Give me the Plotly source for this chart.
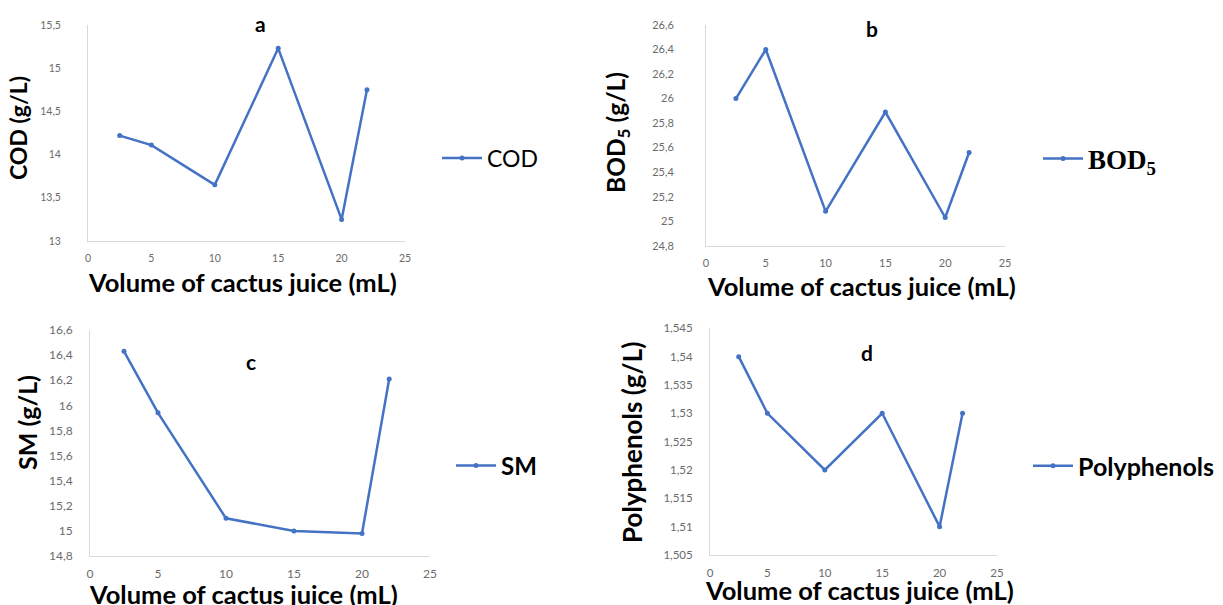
import plotly.graph_objects as go

W, H = 1223, 605
OFF = 8  # the page body adds an 8px margin around the figure

volume = [2.5, 5, 10, 15, 20, 22]
cod = [14.22, 14.11, 13.65, 15.23, 13.25, 14.75]
bod5 = [26.0, 26.4, 25.08, 25.89, 25.03, 25.56]
sm = [16.43, 15.94, 15.1, 15.0, 14.98, 16.21]
polyphenols = [1.54, 1.53, 1.52, 1.53, 1.51, 1.53]

x_title = "Volume of cactus juice (mL)"
y_titles = ["COD (g/L)", "BOD<sub>5</sub> (g/L)", "SM (g/L)", "Polyphenols (g/L)"]
legend_names = ["COD", "BOD<sub>5</sub>", "SM", "Polyphenols"]
panel_letters = ["a", "b", "c", "d"]

BLUE = "#4472C4"
FONT = "Lato"


def px(x):
    return (x - OFF) / W


def py(y):
    return 1 - (y - OFF) / H


# plot-area boxes in pixels: left, right, top, bottom
boxes = [
    (88, 405, 25, 241),
    (706, 1005, 25, 245.7),
    (90, 430, 330, 556),
    (710, 997, 328.3, 555),
]
y_ranges = [(13, 15.5), (24.8, 26.6), (14.8, 16.6), (1.505, 1.545)]
y_dticks = [0.5, 0.2, 0.2, 0.005]
tick_sizes = [10.5, 11, 12, 11.5]
y_standoff = [24, 29, 14, 14]

series = [cod, bod5, sm, polyphenols]

fig = go.Figure()

legend_pos = [(437, 158), (1038, 159), (451, 466), (1028, 466)]
legend_fonts = [
    dict(family=FONT, size=23, color="black"),
    dict(family="Liberation Serif", size=27, color="black", weight="bold"),
    dict(family=FONT, size=24, color="black", weight="bold"),
    dict(family=FONT, size=25, color="black", weight="bold"),
]

layout_axes = {}
for i in range(4):
    sfx = "" if i == 0 else str(i + 1)
    l, r, t, b = boxes[i]
    lg = "legend" if i == 0 else f"legend{i + 1}"
    fig.add_trace(go.Scatter(
        x=volume, y=series[i], mode="lines+markers",
        name=legend_names[i],
        line=dict(color=BLUE, width=2.5),
        marker=dict(color=BLUE, size=5),
        xaxis="x" + sfx, yaxis="y" + sfx,
        legend=lg, showlegend=True,
    ))
    layout_axes["xaxis" + sfx] = dict(
        domain=[px(l), px(r)], range=[0, 25], dtick=5, tick0=0,
        anchor="y" + sfx, showline=True, linecolor="#d9d9d9", linewidth=1,
        showgrid=False, zeroline=False, ticks="", automargin=False,
        ticklabelstandoff=7,
        tickfont=dict(family=FONT, size=tick_sizes[i], color="#6b6b6b"),
    )
    y0, y1 = y_ranges[i]
    layout_axes["yaxis" + sfx] = dict(
        domain=[py(b), py(t)], range=[y0, y1], dtick=y_dticks[i], tick0=y0,
        anchor="x" + sfx, showline=True, linecolor="#d9d9d9", linewidth=1,
        showgrid=False, zeroline=False, ticks="", automargin=False,
        ticklabelstandoff=y_standoff[i],
        tickfont=dict(family=FONT, size=tick_sizes[i], color="#6b6b6b"),
    )
    lx, ly = legend_pos[i]
    layout_axes[lg] = dict(
        x=px(lx), y=py(ly), xanchor="left", yanchor="middle",
        font=legend_fonts[i], bgcolor="rgba(0,0,0,0)", itemwidth=40,
    )

annotations = []
x_title_pos = [(242, 282), (861, 286), (243, 594), (860, 590)]
y_title_pos = [(18, 128), (618, 133), (27, 423), (632, 443)]
y_title_sizes = [23, 24.5, 25, 26]
letter_pos = [(260, 23), (872, 28), (251, 361), (867, 352)]
for i in range(4):
    xx, yy = x_title_pos[i]
    annotations.append(dict(
        text=x_title, x=px(xx), y=py(yy), xref="paper", yref="paper",
        xanchor="center", yanchor="middle", showarrow=False,
        font=dict(family=FONT, size=25.5, color="black", weight="bold"),
    ))
    xx, yy = y_title_pos[i]
    annotations.append(dict(
        text=y_titles[i], x=px(xx), y=py(yy), xref="paper", yref="paper",
        xanchor="center", yanchor="middle", showarrow=False, textangle=-90,
        font=dict(family=FONT, size=y_title_sizes[i], color="black", weight="bold"),
    ))
    xx, yy = letter_pos[i]
    annotations.append(dict(
        text=panel_letters[i], x=px(xx), y=py(yy), xref="paper", yref="paper",
        xanchor="center", yanchor="middle", showarrow=False,
        font=dict(family=FONT, size=21, color="black", weight="bold"),
    ))

fig.update_layout(
    width=W, height=H, margin=dict(l=0, r=0, t=0, b=0, autoexpand=False),
    paper_bgcolor="white", plot_bgcolor="white",
    separators=", ",
    annotations=annotations,
    **layout_axes,
)

fig.write_html("out.html")
